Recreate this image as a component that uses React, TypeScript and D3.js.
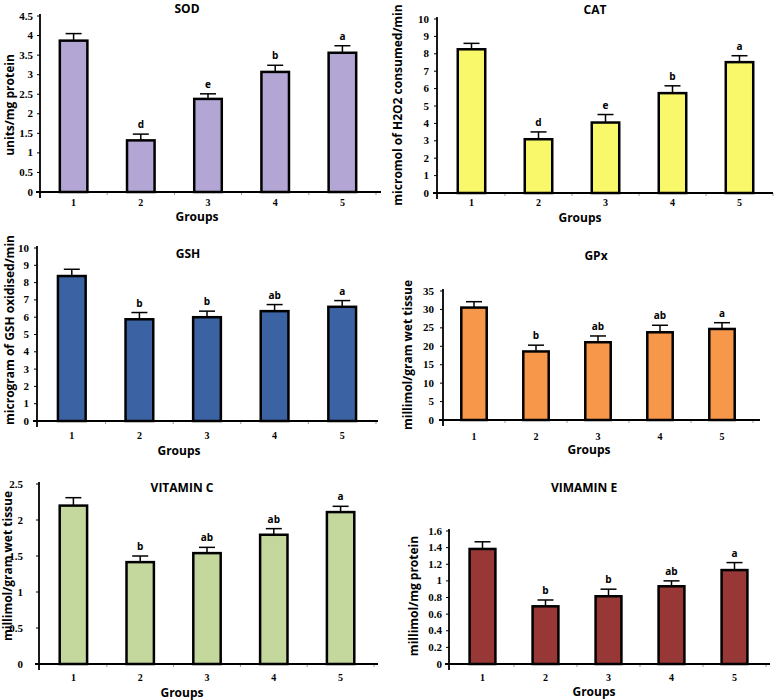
import React from 'react';
import * as d3 from 'd3';

const groups = ['1', '2', '3', '4', '5'];

const sodValues = [3.87, 1.32, 2.38, 3.07, 3.56];
const sodErrors = [0.18, 0.16, 0.13, 0.17, 0.18];
const sodLetters = ['', 'd', 'e', 'b', 'a'];
const sodTicks = [0, 0.5, 1, 1.5, 2, 2.5, 3, 3.5, 4, 4.5];

const catValues = [8.26, 3.09, 4.05, 5.74, 7.52];
const catErrors = [0.34, 0.42, 0.46, 0.42, 0.37];
const catLetters = ['', 'd', 'e', 'b', 'a'];
const catTicks = [0, 1, 2, 3, 4, 5, 6, 7, 8, 9, 10];

const gshValues = [8.38, 5.88, 6.0, 6.35, 6.6];
const gshErrors = [0.39, 0.39, 0.35, 0.38, 0.36];
const gshLetters = ['', 'b', 'b', 'ab', 'a'];
const gshTicks = [0, 1, 2, 3, 4, 5, 6, 7, 8, 9, 10];

const gpxValues = [30.5, 18.6, 21.1, 23.8, 24.7];
const gpxErrors = [1.6, 1.7, 1.7, 1.9, 1.7];
const gpxLetters = ['', 'b', 'ab', 'ab', 'a'];
const gpxTicks = [0, 5, 10, 15, 20, 25, 30, 35];

const vitCValues = [2.2, 1.415, 1.54, 1.795, 2.11];
const vitCErrors = [0.11, 0.085, 0.08, 0.085, 0.08];
const vitCLetters = ['', 'b', 'ab', 'ab', 'a'];
const vitCTicks = [0, 0.5, 1, 1.5, 2, 2.5];

const vitEValues = [1.384, 0.694, 0.815, 0.935, 1.13];
const vitEErrors = [0.086, 0.076, 0.085, 0.065, 0.09];
const vitELetters = ['', 'b', 'b', 'ab', 'a'];
const vitETicks = [0, 0.2, 0.4, 0.6, 0.8, 1, 1.2, 1.4, 1.6];

const panels = [
  {
    title: 'SOD', ylabel: 'units/mg protein', values: sodValues, errors: sodErrors, letters: sodLetters, ticks: sodTicks,
    fill: '#b4a6d4', axisX: 40, axisEnd: 381, bandStart: 40, bandEnd: 376, yTop: 16, y0: 192,
    titleX: 187, titleY: 13, ylX: 14, ylY: 105, tickGap: 7, xTickY: 206, groupsX: 197, groupsY: 221,
  },
  {
    title: 'CAT', ylabel: 'micromol of H2O2 consumed/min', values: catValues, errors: catErrors, letters: catLetters, ticks: catTicks,
    fill: '#f8f86a', axisX: 437, axisEnd: 773, bandStart: 438, bandEnd: 773, yTop: 19, y0: 193,
    titleX: 595, titleY: 14, ylX: 402, ylY: 105, tickGap: 8, xTickY: 206, groupsX: 580, groupsY: 222,
  },
  {
    title: 'GSH', ylabel: 'microgram of GSH oxidised/min', values: gshValues, errors: gshErrors, letters: gshLetters, ticks: gshTicks,
    fill: '#3b63a3', axisX: 37, axisEnd: 378, bandStart: 38, bandEnd: 376, yTop: 248, y0: 421,
    titleX: 188, titleY: 258, ylX: 14, ylY: 330, tickGap: 8, xTickY: 439, groupsX: 179, groupsY: 455,
  },
  {
    title: 'GPx', ylabel: 'millimol/gram wet tissue', values: gpxValues, errors: gpxErrors, letters: gpxLetters, ticks: gpxTicks,
    fill: '#f7974a', axisX: 443, axisEnd: 760, bandStart: 443, bandEnd: 753, yTop: 291, y0: 420,
    titleX: 596, titleY: 260, ylX: 412, ylY: 355, tickGap: 9, xTickY: 440, groupsX: 589, groupsY: 454,
  },
  {
    title: 'VITAMIN C', ylabel: 'millimol/gram wet tissue', values: vitCValues, errors: vitCErrors, letters: vitCLetters, ticks: vitCTicks,
    fill: '#c4d79c', axisX: 39, axisEnd: 378, bandStart: 40, bandEnd: 374, yTop: 484, y0: 664,
    titleX: 182, titleY: 492, ylX: 12, ylY: 566, tickGap: 16, xTickY: 681, groupsX: 182, groupsY: 697,
  },
  {
    title: 'VIMAMIN E', ylabel: 'millimol/mg protein', values: vitEValues, errors: vitEErrors, letters: vitELetters, ticks: vitETicks,
    fill: '#973836', axisX: 449, axisEnd: 770, bandStart: 451, bandEnd: 766, yTop: 531, y0: 664,
    titleX: 584, titleY: 492, ylX: 418, ylY: 596, tickGap: 7, xTickY: 681, groupsX: 594, groupsY: 696,
  },
];

const SANS = '"Open Sans", "DejaVu Sans", sans-serif';
const SERIF = '"Liberation Serif", "Times New Roman", serif';

function Panel({ p }: { p: any }) {
  const maxV = p.ticks[p.ticks.length - 1];
  const y = d3.scaleLinear().domain([0, maxV]).range([p.y0, p.yTop]);
  const x = d3.scaleBand().domain(groups).range([p.bandStart, p.bandEnd]);
  const bw = x.step() * 0.41;
  const capW = 16;
  const fmt = (v: number) => String(+v.toFixed(2));
  return (
    <g>
      <text x={p.titleX} y={p.titleY} textAnchor="middle" fontFamily={SANS} fontWeight="bold" fontSize={12}>{p.title}</text>
      <text transform={`translate(${p.ylX},${p.ylY}) rotate(-90)`} textAnchor="middle" fontFamily={SANS} fontWeight="bold" fontSize={12}>{p.ylabel}</text>
      {p.ticks.map((t: number) => (
        <g key={t}>
          <line x1={p.axisX - 3} x2={p.axisX} y1={y(t)} y2={y(t)} stroke="#000" strokeWidth={1} />
          <text x={p.axisX - p.tickGap} y={y(t) + 3.5} textAnchor="end" fontFamily={SERIF} fontWeight="bold" fontSize={11}>{fmt(t)}</text>
        </g>
      ))}
      {groups.map((g, i) => {
        const cx = (x(g) as number) + x.bandwidth() / 2;
        const v = p.values[i];
        const e = p.errors[i];
        return (
          <g key={g}>
            <rect x={cx - bw / 2} y={y(v)} width={bw} height={p.y0 - y(v)} fill={p.fill} stroke="#000" strokeWidth={2.5} />
            <line x1={cx} x2={cx} y1={y(v)} y2={y(v + e)} stroke="#000" strokeWidth={1.5} />
            <line x1={cx - capW / 2} x2={cx + capW / 2} y1={y(v + e)} y2={y(v + e)} stroke="#000" strokeWidth={1.5} />
            {p.letters[i] ? (
              <text x={cx} y={y(v + e) - 6} textAnchor="middle" fontFamily={SANS} fontWeight="bold" fontSize={10}>{p.letters[i]}</text>
            ) : null}
            <text x={cx} y={p.xTickY} textAnchor="middle" fontFamily={SERIF} fontWeight="bold" fontSize={10}>{g}</text>
            <line x1={(x(g) as number) + x.step()} x2={(x(g) as number) + x.step()} y1={p.y0} y2={p.y0 + 3} stroke="#999" strokeWidth={1} />
          </g>
        );
      })}
      <line x1={p.axisX} x2={p.axisX} y1={p.yTop - 2} y2={p.y0 + 6} stroke="#000" strokeWidth={1.8} />
      <line x1={p.axisX - 4} x2={p.axisEnd} y1={p.y0} y2={p.y0} stroke="#000" strokeWidth={1.8} />
      <text x={p.groupsX} y={p.groupsY} textAnchor="middle" fontFamily={SANS} fontWeight="bold" fontSize={12}>Groups</text>
    </g>
  );
}

export default function App() {
  return (
    <svg width={778} height={700} style={{ position: 'absolute', left: 0, top: 0, background: '#fff' }}>
      <rect x={0} y={0} width={778} height={700} fill="#fff" />
      {panels.map((p) => <Panel key={p.title} p={p} />)}
    </svg>
  );
}
